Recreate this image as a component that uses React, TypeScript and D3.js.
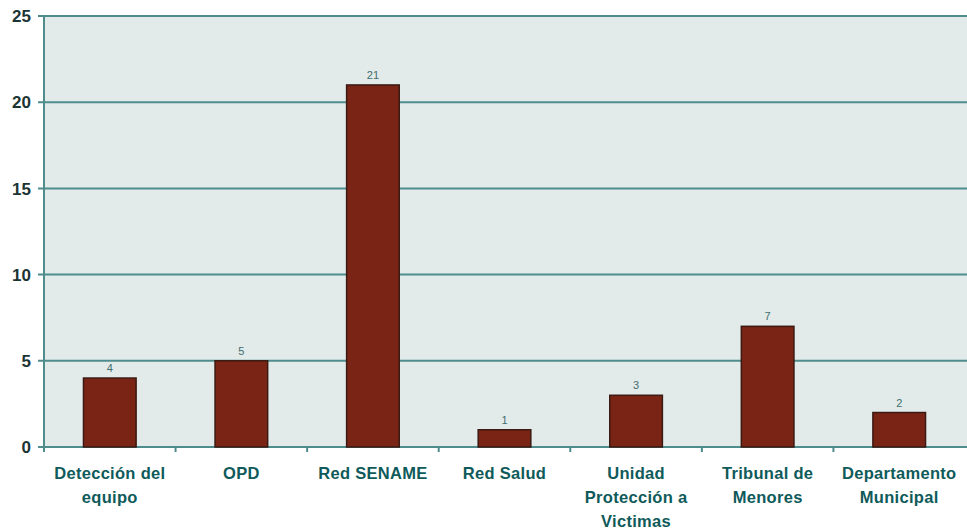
import React from "react";
import * as d3 from "d3";

const categories: string[][] = [
  ["Detección del", "equipo"],
  ["OPD"],
  ["Red SENAME"],
  ["Red Salud"],
  ["Unidad", "Protección a", "Victimas"],
  ["Tribunal de", "Menores"],
  ["Departamento", "Municipal"],
];
const values: number[] = [4, 5, 21, 1, 3, 7, 2];
const yTicks: number[] = [0, 5, 10, 15, 20, 25];

const W = 967;
const H = 529;
const left = 44;
const right = 965;
const top = 16;
const bottom = 447;

export default function App() {
  const ids = categories.map((_, i) => String(i));
  const x = d3.scaleBand<string>().domain(ids).range([left, right]).padding(0);
  const y = d3.scaleLinear().domain([0, 25]).range([bottom, top]);
  const bw = x.bandwidth() * 0.4;
  const teal = "#4f8c8c";
  return (
    <svg width={W} height={H} style={{ position: "absolute", left: 0, top: 0, background: "#fff" }}>
      <rect x={left} y={top} width={W - left} height={bottom - top} fill="#e2eaea" />
      {yTicks.map((t) => (
        <g key={t}>
          <line x1={left - 6} x2={W} y1={y(t)} y2={y(t)} stroke={teal} strokeWidth={2} />
          <text x={31} y={y(t)} dy="0.36em" textAnchor="end" fontFamily="Liberation Sans, Arial, sans-serif" fontWeight="bold" fontSize={17} fill="#1c3434">
            {t}
          </text>
        </g>
      ))}
      <line x1={left} x2={left} y1={top} y2={bottom + 5} stroke={teal} strokeWidth={2} />
      {ids.map((id) => (
        <line key={"t" + id} x1={x(id)!} x2={x(id)!} y1={bottom} y2={bottom + 5} stroke={teal} strokeWidth={2} />
      ))}
      {values.map((v, i) => {
        const cx = x(ids[i])! + x.bandwidth() / 2;
        return (
          <g key={"b" + i}>
            <rect x={cx - bw / 2} y={y(v)} width={bw} height={bottom - y(v)} fill="#7a2416" stroke="#3a1a12" strokeWidth={1.5} />
            <text x={cx} y={y(v) - 6} textAnchor="middle" fontFamily="Liberation Sans, Arial, sans-serif" fontSize={11} fill="#3f6e6e">
              {v}
            </text>
          </g>
        );
      })}
      {categories.map((lines, i) => {
        const cx = x(ids[i])! + x.bandwidth() / 2;
        return (
          <text key={"c" + i} x={cx} y={479} textAnchor="middle" fontFamily="Liberation Sans, Arial, sans-serif" fontWeight="bold" fontSize={16.5} letterSpacing={0.3} fill="#0f5a5a">
            {lines.map((l, j) => (
              <tspan key={j} x={cx} dy={j === 0 ? 0 : 24}>
                {l}
              </tspan>
            ))}
          </text>
        );
      })}
    </svg>
  );
}
